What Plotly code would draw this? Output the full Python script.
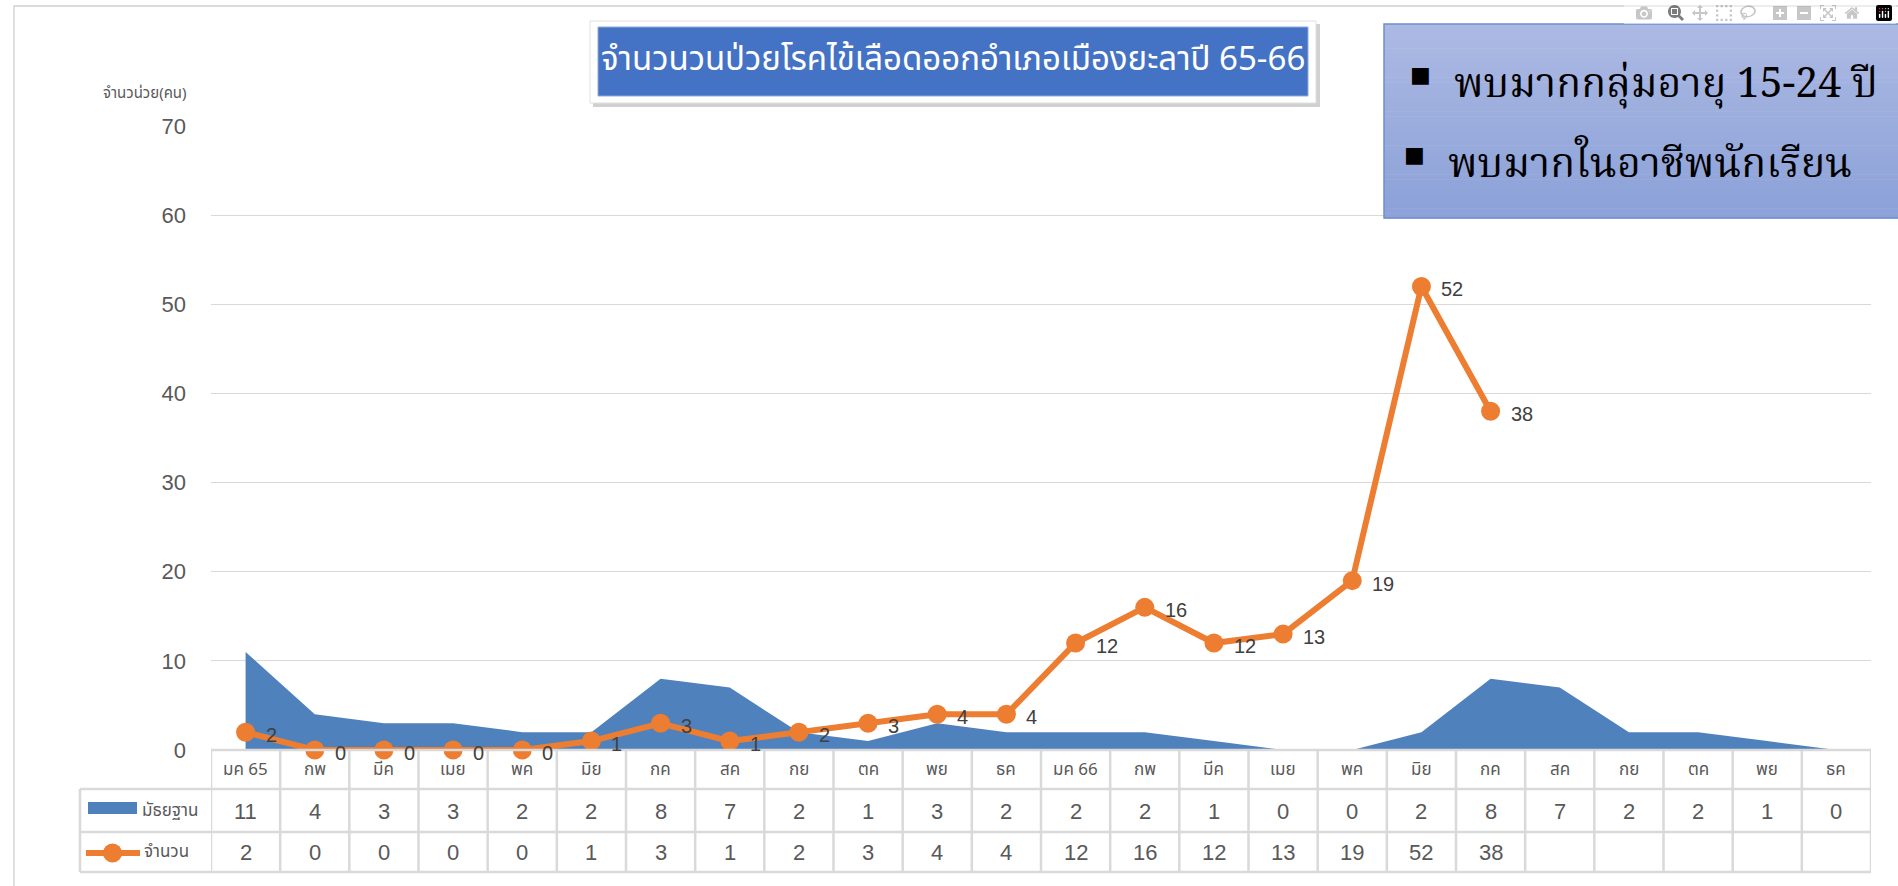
import plotly.graph_objects as go

# ---------------- data ----------------
months = ["มค 65", "กพ", "มีค", "เมย", "พค", "มิย", "กค", "สค", "กย", "ตค", "พย", "ธค",
          "มค 66", "กพ", "มีค", "เมย", "พค", "มิย", "กค", "สค", "กย", "ตค", "พย", "ธค"]
median_vals = [11, 4, 3, 3, 2, 2, 8, 7, 2, 1, 3, 2, 2, 2, 1, 0, 0, 2, 8, 7, 2, 2, 1, 0]
count_vals = [2, 0, 0, 0, 0, 1, 3, 1, 2, 3, 4, 4, 12, 16, 12, 13, 19, 52, 38]
series_names = ["มัธยฐาน", "จำนวน"]
title_text = "จำนวนวนป่วยโรคไข้เลือดออกอำเภอเมืองยะลาปี 65-66"
yaxis_label = "จำนวน่วย(คน)"
notes = ["พบมากกลุ่มอายุ 15-24 ปี", "พบมากในอาชีพนักเรียน"]

W, H = 1898, 886
BLUE = "#4F81BD"
ORANGE = "#ED7D31"
GRID = "#D9D9D9"
TXT = "#595959"
THAI = "Noto Sans Thai, Tahoma, Leelawadee UI, Liberation Sans, sans-serif"
SERIF = "Noto Serif Thai, Angsana New, Liberation Serif, serif"
NUM = "Liberation Sans, Arial, sans-serif"

def px(y):  # pixel y (from top) -> paper
    return 1 - y / H

def pxx(x):
    return x / W

n = len(months)
xs = list(range(n))

fig = go.Figure()
fig.add_trace(go.Scatter(x=xs, y=median_vals, mode="lines", line=dict(width=0, color=BLUE),
                         fill="tozeroy", fillcolor=BLUE, name=series_names[0], hoverinfo="x+y"))
fig.add_trace(go.Scatter(x=xs[:len(count_vals)], y=count_vals, mode="lines+markers",
                         line=dict(color=ORANGE, width=6), marker=dict(color=ORANGE, size=19),
                         cliponaxis=False, name=series_names[1]))

x_left, x_right = 211.0, 1871.0
y_top0, y_bot0 = 126.0, 750.0
fig.update_layout(
    width=W, height=H, margin=dict(l=0, r=0, t=0, b=0, pad=0, autoexpand=False),
    paper_bgcolor="white", plot_bgcolor="white", showlegend=False,
    font=dict(family=THAI, color=TXT),
    xaxis=dict(domain=[pxx(x_left), pxx(x_right)], range=[-0.5, n - 0.5], showticklabels=False,
               showgrid=False, zeroline=False, showline=False, fixedrange=True, automargin=False),
    yaxis=dict(domain=[px(y_bot0), px(y_top0)], range=[0, 70], dtick=10, showgrid=True,
               gridcolor=GRID, gridwidth=1.3, zeroline=False, showline=False, automargin=False,
               tickfont=dict(size=22, color=TXT, family=NUM), ticklabelstandoff=24),
)

shapes = []
annotations = []

def note(x, y, text, size, color, family, xanchor="center", xref="paper", yref="paper", **kw):
    annotations.append(dict(x=x, y=y, xref=xref, yref=yref, text=text, showarrow=False,
                            xanchor=xanchor, yanchor="middle",
                            font=dict(size=size, color=color, family=family), **kw))

# chart frame
shapes.append(dict(type="rect", xref="paper", yref="paper", x0=pxx(14), x1=pxx(1905), y0=px(893), y1=px(6),
                   line=dict(color="#D0D0D0", width=1.3), fillcolor="rgba(0,0,0,0)", layer="below"))

# data labels for count series
for i, v in enumerate(count_vals):
    note(i, v, str(v), 20, "#404040", NUM, xanchor="left", xref="x", yref="y", xshift=18, yshift=-3)

# y axis title
note(pxx(145), px(93), yaxis_label, 15, TXT, THAI)

# ---------------- data table ----------------
row_lines = [750, 789, 832, 872]
lab_x0 = 80
for k, yy in enumerate(row_lines):
    x0 = x_left if k == 0 else lab_x0
    shapes.append(dict(type="line", xref="paper", yref="paper", x0=pxx(x0), x1=pxx(x_right),
                       y0=px(yy), y1=px(yy), line=dict(color=GRID, width=2.5)))
for i in range(n + 1):
    shapes.append(dict(type="line", xref="x", yref="paper", x0=i - 0.5, x1=i - 0.5,
                       y0=px(row_lines[0]), y1=px(row_lines[-1]), line=dict(color=GRID, width=2.5)))
shapes.append(dict(type="line", xref="paper", yref="paper", x0=pxx(lab_x0), x1=pxx(lab_x0),
                   y0=px(row_lines[1]), y1=px(row_lines[-1]), line=dict(color=GRID, width=2.5)))

row_centers = [770, 811, 852]
for i, m in enumerate(months):
    note(i, px(row_centers[0]), m, 17, TXT, THAI, xref="x")
for i, v in enumerate(median_vals):
    note(i, px(row_centers[1]), str(v), 22, TXT, NUM, xref="x")
for i, v in enumerate(count_vals):
    note(i, px(row_centers[2]), str(v), 22, TXT, NUM, xref="x")

# series keys in table
shapes.append(dict(type="rect", xref="paper", yref="paper", x0=pxx(88), x1=pxx(137), y0=px(814), y1=px(802),
                   fillcolor=BLUE, line=dict(width=0)))
shapes.append(dict(type="line", xref="paper", yref="paper", x0=pxx(86), x1=pxx(140), y0=px(853), y1=px(853),
                   line=dict(color=ORANGE, width=6)))
shapes.append(dict(type="circle", xref="paper", yref="paper", x0=pxx(103), x1=pxx(122), y0=px(862.5), y1=px(843.5),
                   fillcolor=ORANGE, line=dict(width=0)))
note(pxx(140), px(row_centers[1]), series_names[0], 17, TXT, THAI, xanchor="left")
note(pxx(142), px(row_centers[2]), series_names[1], 17, TXT, THAI, xanchor="left")

# ---------------- title box ----------------
shapes.append(dict(type="rect", xref="paper", yref="paper", x0=pxx(593), x1=pxx(1320), y0=px(107), y1=px(24),
                   fillcolor="rgba(0,0,0,0.18)", line=dict(width=0)))
shapes.append(dict(type="rect", xref="paper", yref="paper", x0=pxx(590), x1=pxx(1316), y0=px(103), y1=px(21),
                   fillcolor="white", line=dict(color="#E0E0E0", width=1)))
shapes.append(dict(type="rect", xref="paper", yref="paper", x0=pxx(598), x1=pxx(1308), y0=px(96), y1=px(27),
                   fillcolor="#4472C4", line=dict(color="#8FAADC", width=1)))
note(pxx(953), px(60), title_text, 33, "white", THAI)

# ---------------- notes box (gradient) ----------------
bx0, bx1, by0, by1 = 1384, 1898, 24, 218
top_c = (172, 185, 227)
bot_c = (139, 161, 216)
steps = 40
for s in range(steps):
    t = s / (steps - 1)
    c = tuple(round(top_c[j] + (bot_c[j] - top_c[j]) * t) for j in range(3))
    ya = by0 + (by1 - by0) * s / steps
    yb = by0 + (by1 - by0) * (s + 1) / steps + 0.5
    shapes.append(dict(type="rect", xref="paper", yref="paper", x0=pxx(bx0), x1=pxx(bx1), y0=px(yb), y1=px(ya),
                       fillcolor="rgb(%d,%d,%d)" % c, line=dict(width=0)))
shapes.append(dict(type="rect", xref="paper", yref="paper", x0=pxx(bx0), x1=pxx(bx1 + 5), y0=px(by1), y1=px(by0),
                   fillcolor="rgba(0,0,0,0)", line=dict(color="#6C8ED0", width=1.5)))
note_y = [86, 166]
note_x = [1452, 1446]
bullet_x = [1420, 1414]
bullet_y = [75, 155]
for k, t in enumerate(notes):
    note(pxx(bullet_x[k]), px(bullet_y[k]), "■", 22, "black", "DejaVu Sans")
    note(pxx(note_x[k]), px(note_y[k]), t, 41, "black", SERIF, xanchor="left")

fig.update_layout(shapes=shapes, annotations=annotations)
fig.write_html("out.html", post_script="document.body.style.margin='0';")
